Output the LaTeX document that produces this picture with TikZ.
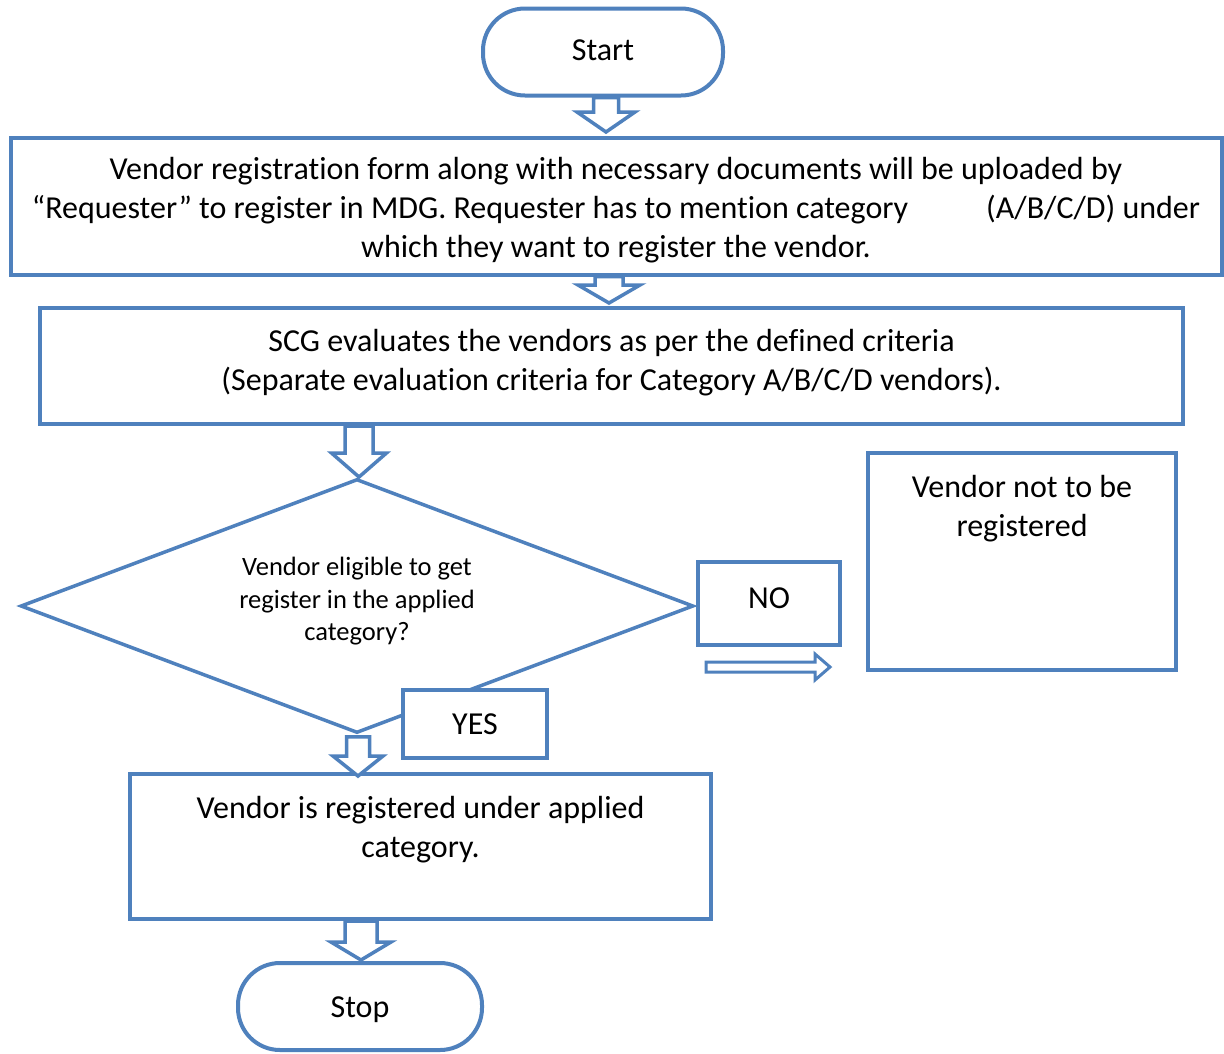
\documentclass[tikz,border=0pt]{standalone}
\usepackage{fontspec}
\setmainfont{Carlito}[Ligatures=NoCommon]
\usetikzlibrary{shapes.geometric,calc}
\definecolor{bl}{HTML}{4F81BD}
\tikzset{
  box/.style={draw=bl,line width=4pt,fill=white,inner sep=0pt},
  big/.style={font=\fontsize{32}{39}\selectfont,align=center,text=black},
  small/.style={font=\fontsize{26.5}{32.5}\selectfont,align=center,text=black},
  term/.style={box,rounded corners=42pt},
  barr/.style={draw=bl,line width=3.5pt,fill=white,line join=miter},
}
% #1 top, #2 tip, #3 half shaft, #4 half head, #5 head length
\newcommand{\blockarrow}[5]{%
  \draw[barr] ($(#1)+(-#3,0)$) -- ($(#2)+(-#3,-#5)$) -- ($(#2)+(-#4,-#5)$) -- (#2)
    -- ($(#2)+(#4,-#5)$) -- ($(#2)+(#3,-#5)$) -- ($(#1)+(#3,0)$) -- cycle;}
\begin{document}
\begin{tikzpicture}[x=1pt,y=-1pt]
\useasboundingbox[fill=white] (0,0) rectangle (1224,1053);

\node[term,big,minimum width=240pt,minimum height=87pt] (start) at (603,52) {\raisebox{3pt}{Start}};

\node[box,minimum width=1211pt,minimum height=137pt,
  label={[big,yshift=-4.5pt]center:{Vendor registration form along with necessary documents will be uploaded by\\
   “Requester” to register in MDG. Requester has to mention category\hspace{78pt}(A/B/C/D) under\\
   which they want to register the vendor.}}] (b1) at (616,206) {};

\node[box,minimum width=1143pt,minimum height=116pt,
  label={[big,yshift=3.5pt]center:{SCG evaluates the vendors as per the defined criteria\\
   (Separate evaluation criteria for Category A/B/C/D vendors).}}] (b2) at (611.5,366) {};

\node[box,line width=3.5pt,diamond,aspect=2.65,minimum width=673pt,minimum height=254pt,
  label={[small,yshift=4.5pt]center:{Vendor eligible to get\\register in the applied\\category?}}] (dia) at (357,606) {};

\node[box,minimum width=142pt,minimum height=83pt,
  label={[big,yshift=5.5pt]center:NO}] (no) at (769,603.5) {};
\node[box,big,minimum width=144pt,minimum height=68pt] (yes) at (475,724) {YES};

\node[box,minimum width=308pt,minimum height=217pt,
  label={[big,anchor=north,yshift=-21pt]north:{Vendor not to be\\registered}}] (notreg) at (1022,561.5) {};

\node[box,minimum width=581pt,minimum height=145pt,
  label={[big,anchor=north,yshift=-21pt]north:{Vendor is registered under applied\\category.}}] (reg) at (420.5,846.5) {};

\node[term,minimum width=244pt,minimum height=87pt,
  label={[big,yshift=-3pt]center:Stop}] (stop) at (360,1006.5) {};

% block arrows
\coordinate (a1t) at (606,0 |- start.south);
\coordinate (a1h) at (606,132);
\blockarrow{a1t}{a1h}{12.5}{29}{20}

\coordinate (a2t) at (609,0 |- b1.south);
\coordinate (a2h) at (609,303);
\blockarrow{a2t}{a2h}{14}{31}{18}

\coordinate (a3t) at (359,0 |- b2.south);
\coordinate (a3h) at (359,477);
\blockarrow{a3t}{a3h}{14}{27.5}{24}

\coordinate (a4t) at ($(dia.south)+(1,2)$);
\coordinate (a4h) at (358,776);
\blockarrow{a4t}{a4h}{11.5}{25}{20}

\coordinate (a5t) at (361,0 |- reg.south);
\coordinate (a5h) at (361,960);
\blockarrow{a5t}{a5h}{16}{30}{18}

% thin NO arrow
\coordinate (nA) at ($(no.south west)+(10,20)$);
\coordinate (nB) at (830,0 |- nA);
\draw[barr,line width=3pt] ($(nA)+(0,-5)$) -- ($(nB)+(-15,-5)$) -- ($(nB)+(-15,-13)$) -- (nB)
  -- ($(nB)+(-15,13)$) -- ($(nB)+(-15,5)$) -- ($(nA)+(0,5)$) -- cycle;
\end{tikzpicture}
\end{document}
